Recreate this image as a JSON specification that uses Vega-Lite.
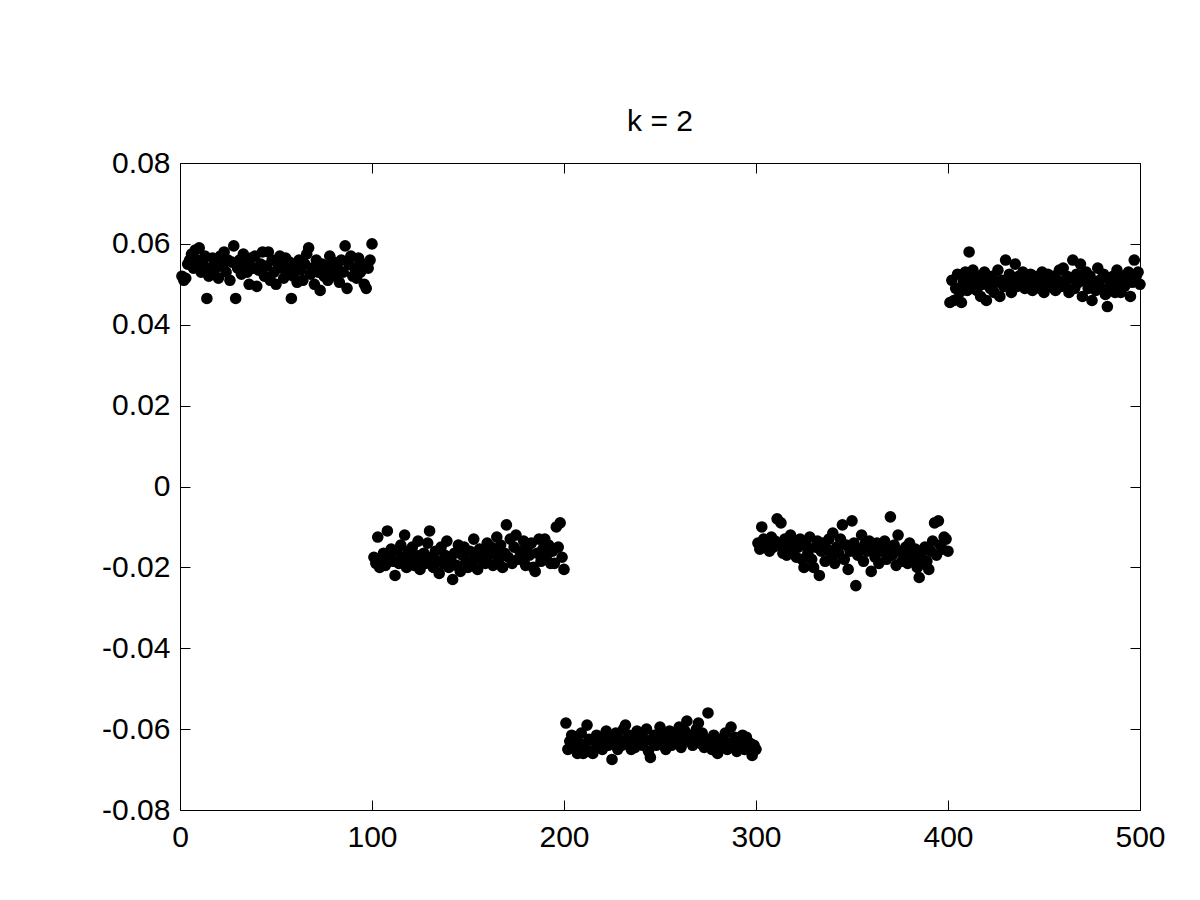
{
"$schema":"https://vega.github.io/schema/vega-lite/v6.json",
"autosize":{"type":"none"},
"padding":{"left":180,"top":163,"right":60,"bottom":90},
"width":960,"height":647,
"background":"white",
"title":{"text":"k = 2","font":"Liberation Sans","fontSize":30,"fontWeight":"normal","color":"black","baseline":"alphabetic","offset":-13},
"data":{"values":[
{"x":1,"y":0.052},{"x":2,"y":0.051},{"x":3,"y":0.0515},{"x":4,"y":0.055},{"x":5,"y":0.056},{"x":6,"y":0.0575},{"x":7,"y":0.054},{"x":8,"y":0.0585},{"x":9,"y":0.056},{"x":10,"y":0.059},
{"x":11,"y":0.053},{"x":12,"y":0.055},{"x":13,"y":0.057},{"x":14,"y":0.0465},{"x":15,"y":0.052},{"x":16,"y":0.054},{"x":17,"y":0.0565},{"x":18,"y":0.0535},{"x":19,"y":0.055},{"x":20,"y":0.0515},
{"x":21,"y":0.057},{"x":22,"y":0.0545},{"x":23,"y":0.058},{"x":24,"y":0.053},{"x":25,"y":0.056},{"x":26,"y":0.051},{"x":27,"y":0.0555},{"x":28,"y":0.0595},{"x":29,"y":0.0465},{"x":30,"y":0.054},
{"x":31,"y":0.056},{"x":32,"y":0.0525},{"x":33,"y":0.0575},{"x":34,"y":0.055},{"x":35,"y":0.053},{"x":36,"y":0.05},{"x":37,"y":0.0565},{"x":38,"y":0.054},{"x":39,"y":0.057},{"x":40,"y":0.0495},
{"x":41,"y":0.0535},{"x":42,"y":0.055},{"x":43,"y":0.058},{"x":44,"y":0.052},{"x":45,"y":0.0545},{"x":46,"y":0.058},{"x":47,"y":0.051},{"x":48,"y":0.056},{"x":49,"y":0.053},{"x":50,"y":0.05},
{"x":51,"y":0.055},{"x":52,"y":0.057},{"x":53,"y":0.054},{"x":54,"y":0.0515},{"x":55,"y":0.0565},{"x":56,"y":0.053},{"x":57,"y":0.0555},{"x":58,"y":0.0465},{"x":59,"y":0.052},{"x":60,"y":0.054},
{"x":61,"y":0.0505},{"x":62,"y":0.056},{"x":63,"y":0.0535},{"x":64,"y":0.051},{"x":65,"y":0.055},{"x":66,"y":0.0575},{"x":67,"y":0.059},{"x":68,"y":0.0525},{"x":69,"y":0.054},{"x":70,"y":0.05},
{"x":71,"y":0.056},{"x":72,"y":0.053},{"x":73,"y":0.0485},{"x":74,"y":0.055},{"x":75,"y":0.052},{"x":76,"y":0.0545},{"x":77,"y":0.051},{"x":78,"y":0.057},{"x":79,"y":0.0535},{"x":80,"y":0.0555},
{"x":81,"y":0.052},{"x":82,"y":0.054},{"x":83,"y":0.0505},{"x":84,"y":0.056},{"x":85,"y":0.053},{"x":86,"y":0.0595},{"x":87,"y":0.049},{"x":88,"y":0.055},{"x":89,"y":0.057},{"x":90,"y":0.052},
{"x":91,"y":0.054},{"x":92,"y":0.0515},{"x":93,"y":0.0565},{"x":94,"y":0.053},{"x":95,"y":0.055},{"x":96,"y":0.05},{"x":97,"y":0.049},{"x":98,"y":0.054},{"x":99,"y":0.056},{"x":100,"y":0.06},
{"x":101,"y":-0.0175},{"x":102,"y":-0.019},{"x":103,"y":-0.0125},{"x":104,"y":-0.02},{"x":105,"y":-0.018},{"x":106,"y":-0.0165},{"x":107,"y":-0.0195},{"x":108,"y":-0.011},{"x":109,"y":-0.017},{"x":110,"y":-0.0155},
{"x":111,"y":-0.0185},{"x":112,"y":-0.022},{"x":113,"y":-0.016},{"x":114,"y":-0.019},{"x":115,"y":-0.0145},{"x":116,"y":-0.0175},{"x":117,"y":-0.012},{"x":118,"y":-0.02},{"x":119,"y":-0.016},{"x":120,"y":-0.018},
{"x":121,"y":-0.015},{"x":122,"y":-0.0195},{"x":123,"y":-0.017},{"x":124,"y":-0.0135},{"x":125,"y":-0.0205},{"x":126,"y":-0.018},{"x":127,"y":-0.0165},{"x":128,"y":-0.019},{"x":129,"y":-0.014},{"x":130,"y":-0.011},
{"x":131,"y":-0.0175},{"x":132,"y":-0.02},{"x":133,"y":-0.016},{"x":134,"y":-0.0185},{"x":135,"y":-0.0215},{"x":136,"y":-0.015},{"x":137,"y":-0.019},{"x":138,"y":-0.017},{"x":139,"y":-0.0135},{"x":140,"y":-0.02},
{"x":141,"y":-0.018},{"x":142,"y":-0.023},{"x":143,"y":-0.0165},{"x":144,"y":-0.0195},{"x":145,"y":-0.0145},{"x":146,"y":-0.021},{"x":147,"y":-0.017},{"x":148,"y":-0.015},{"x":149,"y":-0.0185},{"x":150,"y":-0.02},
{"x":151,"y":-0.016},{"x":152,"y":-0.019},{"x":153,"y":-0.013},{"x":154,"y":-0.0175},{"x":155,"y":-0.0205},{"x":156,"y":-0.0155},{"x":157,"y":-0.018},{"x":158,"y":-0.0165},{"x":159,"y":-0.019},{"x":160,"y":-0.014},
{"x":161,"y":-0.017},{"x":162,"y":-0.015},{"x":163,"y":-0.0195},{"x":164,"y":-0.016},{"x":165,"y":-0.0125},{"x":166,"y":-0.018},{"x":167,"y":-0.0145},{"x":168,"y":-0.02},{"x":169,"y":-0.0165},{"x":170,"y":-0.0095},
{"x":171,"y":-0.0175},{"x":172,"y":-0.013},{"x":173,"y":-0.019},{"x":174,"y":-0.015},{"x":175,"y":-0.012},{"x":176,"y":-0.018},{"x":177,"y":-0.016},{"x":178,"y":-0.018},{"x":179,"y":-0.0135},{"x":180,"y":-0.0195},
{"x":181,"y":-0.015},{"x":182,"y":-0.017},{"x":183,"y":-0.014},{"x":184,"y":-0.02},{"x":185,"y":-0.021},{"x":186,"y":-0.0165},{"x":187,"y":-0.013},{"x":188,"y":-0.0185},{"x":189,"y":-0.0155},{"x":190,"y":-0.013},
{"x":191,"y":-0.017},{"x":192,"y":-0.0145},{"x":193,"y":-0.019},{"x":194,"y":-0.016},{"x":195,"y":-0.019},{"x":196,"y":-0.01},{"x":197,"y":-0.015},{"x":198,"y":-0.009},{"x":199,"y":-0.0175},{"x":200,"y":-0.0205},
{"x":201,"y":-0.0585},{"x":202,"y":-0.065},{"x":203,"y":-0.063},{"x":204,"y":-0.0615},{"x":205,"y":-0.0645},{"x":206,"y":-0.062},{"x":207,"y":-0.066},{"x":208,"y":-0.0635},{"x":209,"y":-0.061},{"x":210,"y":-0.066},
{"x":211,"y":-0.064},{"x":212,"y":-0.059},{"x":213,"y":-0.0625},{"x":214,"y":-0.0655},{"x":215,"y":-0.066},{"x":216,"y":-0.063},{"x":217,"y":-0.0615},{"x":218,"y":-0.0645},{"x":219,"y":-0.062},{"x":220,"y":-0.065},
{"x":221,"y":-0.0635},{"x":222,"y":-0.0605},{"x":223,"y":-0.064},{"x":224,"y":-0.062},{"x":225,"y":-0.0675},{"x":226,"y":-0.063},{"x":227,"y":-0.061},{"x":228,"y":-0.065},{"x":229,"y":-0.0625},{"x":230,"y":-0.064},
{"x":231,"y":-0.06},{"x":232,"y":-0.059},{"x":233,"y":-0.0635},{"x":234,"y":-0.0615},{"x":235,"y":-0.065},{"x":236,"y":-0.062},{"x":237,"y":-0.0645},{"x":238,"y":-0.0605},{"x":239,"y":-0.063},{"x":240,"y":-0.061},
{"x":241,"y":-0.064},{"x":242,"y":-0.0625},{"x":243,"y":-0.06},{"x":244,"y":-0.0655},{"x":245,"y":-0.067},{"x":246,"y":-0.063},{"x":247,"y":-0.0615},{"x":248,"y":-0.064},{"x":249,"y":-0.062},{"x":250,"y":-0.0595},
{"x":251,"y":-0.0635},{"x":252,"y":-0.061},{"x":253,"y":-0.065},{"x":254,"y":-0.0625},{"x":255,"y":-0.0605},{"x":256,"y":-0.064},{"x":257,"y":-0.062},{"x":258,"y":-0.0635},{"x":259,"y":-0.061},{"x":260,"y":-0.0595},
{"x":261,"y":-0.0645},{"x":262,"y":-0.062},{"x":263,"y":-0.0605},{"x":264,"y":-0.058},{"x":265,"y":-0.063},{"x":266,"y":-0.0615},{"x":267,"y":-0.064},{"x":268,"y":-0.062},{"x":269,"y":-0.06},{"x":270,"y":-0.0585},
{"x":271,"y":-0.0635},{"x":272,"y":-0.061},{"x":273,"y":-0.0645},{"x":274,"y":-0.0625},{"x":275,"y":-0.056},{"x":276,"y":-0.063},{"x":277,"y":-0.065},{"x":278,"y":-0.0615},{"x":279,"y":-0.064},{"x":280,"y":-0.066},
{"x":281,"y":-0.0625},{"x":282,"y":-0.0645},{"x":283,"y":-0.063},{"x":284,"y":-0.061},{"x":285,"y":-0.065},{"x":286,"y":-0.0635},{"x":287,"y":-0.0595},{"x":288,"y":-0.064},{"x":289,"y":-0.062},{"x":290,"y":-0.0655},
{"x":291,"y":-0.063},{"x":292,"y":-0.0645},{"x":293,"y":-0.0615},{"x":294,"y":-0.065},{"x":295,"y":-0.062},{"x":296,"y":-0.064},{"x":297,"y":-0.0635},{"x":298,"y":-0.0665},{"x":299,"y":-0.064},{"x":300,"y":-0.065},
{"x":301,"y":-0.014},{"x":302,"y":-0.0155},{"x":303,"y":-0.01},{"x":304,"y":-0.013},{"x":305,"y":-0.015},{"x":306,"y":-0.014},{"x":307,"y":-0.016},{"x":308,"y":-0.0125},{"x":309,"y":-0.015},{"x":310,"y":-0.0135},
{"x":311,"y":-0.008},{"x":312,"y":-0.0145},{"x":313,"y":-0.009},{"x":314,"y":-0.0165},{"x":315,"y":-0.013},{"x":316,"y":-0.017},{"x":317,"y":-0.015},{"x":318,"y":-0.012},{"x":319,"y":-0.016},{"x":320,"y":-0.014},
{"x":321,"y":-0.0175},{"x":322,"y":-0.015},{"x":323,"y":-0.013},{"x":324,"y":-0.018},{"x":325,"y":-0.02},{"x":326,"y":-0.0145},{"x":327,"y":-0.0165},{"x":328,"y":-0.0125},{"x":329,"y":-0.018},{"x":330,"y":-0.02},
{"x":331,"y":-0.015},{"x":332,"y":-0.0135},{"x":333,"y":-0.022},{"x":334,"y":-0.016},{"x":335,"y":-0.014},{"x":336,"y":-0.0185},{"x":337,"y":-0.0155},{"x":338,"y":-0.013},{"x":339,"y":-0.017},{"x":340,"y":-0.0115},
{"x":341,"y":-0.019},{"x":342,"y":-0.015},{"x":343,"y":-0.0165},{"x":344,"y":-0.013},{"x":345,"y":-0.0095},{"x":346,"y":-0.018},{"x":347,"y":-0.0145},{"x":348,"y":-0.0205},{"x":349,"y":-0.016},{"x":350,"y":-0.0085},
{"x":351,"y":-0.014},{"x":352,"y":-0.0245},{"x":353,"y":-0.017},{"x":354,"y":-0.0155},{"x":355,"y":-0.012},{"x":356,"y":-0.0185},{"x":357,"y":-0.014},{"x":358,"y":-0.016},{"x":359,"y":-0.0135},{"x":360,"y":-0.021},
{"x":361,"y":-0.015},{"x":362,"y":-0.0175},{"x":363,"y":-0.014},{"x":364,"y":-0.019},{"x":365,"y":-0.016},{"x":366,"y":-0.015},{"x":367,"y":-0.0135},{"x":368,"y":-0.018},{"x":369,"y":-0.0155},{"x":370,"y":-0.0075},
{"x":371,"y":-0.017},{"x":372,"y":-0.0145},{"x":373,"y":-0.0195},{"x":374,"y":-0.012},{"x":375,"y":-0.016},{"x":376,"y":-0.0185},{"x":377,"y":-0.017},{"x":378,"y":-0.015},{"x":379,"y":-0.019},{"x":380,"y":-0.014},
{"x":381,"y":-0.0165},{"x":382,"y":-0.018},{"x":383,"y":-0.0155},{"x":384,"y":-0.02},{"x":385,"y":-0.0225},{"x":386,"y":-0.017},{"x":387,"y":-0.019},{"x":388,"y":-0.015},{"x":389,"y":-0.0185},{"x":390,"y":-0.0205},
{"x":391,"y":-0.016},{"x":392,"y":-0.0135},{"x":393,"y":-0.009},{"x":394,"y":-0.017},{"x":395,"y":-0.0085},{"x":396,"y":-0.0145},{"x":397,"y":-0.0155},{"x":398,"y":-0.0125},{"x":399,"y":-0.013},{"x":400,"y":-0.016},
{"x":401,"y":0.0455},{"x":402,"y":0.051},{"x":403,"y":0.046},{"x":404,"y":0.049},{"x":405,"y":0.0525},{"x":406,"y":0.048},{"x":407,"y":0.0455},{"x":408,"y":0.0505},{"x":409,"y":0.053},{"x":410,"y":0.0485},
{"x":411,"y":0.058},{"x":412,"y":0.051},{"x":413,"y":0.0535},{"x":414,"y":0.0495},{"x":415,"y":0.0485},{"x":416,"y":0.052},{"x":417,"y":0.047},{"x":418,"y":0.05},{"x":419,"y":0.053},{"x":420,"y":0.046},
{"x":421,"y":0.0515},{"x":422,"y":0.049},{"x":423,"y":0.052},{"x":424,"y":0.048},{"x":425,"y":0.0505},{"x":426,"y":0.0535},{"x":427,"y":0.047},{"x":428,"y":0.051},{"x":429,"y":0.0495},{"x":430,"y":0.056},
{"x":431,"y":0.05},{"x":432,"y":0.0525},{"x":433,"y":0.048},{"x":434,"y":0.051},{"x":435,"y":0.055},{"x":436,"y":0.0495},{"x":437,"y":0.052},{"x":438,"y":0.0505},{"x":439,"y":0.053},{"x":440,"y":0.049},
{"x":441,"y":0.0515},{"x":442,"y":0.05},{"x":443,"y":0.0525},{"x":444,"y":0.0485},{"x":445,"y":0.052},{"x":446,"y":0.05},{"x":447,"y":0.0515},{"x":448,"y":0.049},{"x":449,"y":0.053},{"x":450,"y":0.048},
{"x":451,"y":0.051},{"x":452,"y":0.0525},{"x":453,"y":0.0495},{"x":454,"y":0.0505},{"x":455,"y":0.052},{"x":456,"y":0.0485},{"x":457,"y":0.051},{"x":458,"y":0.0535},{"x":459,"y":0.0495},{"x":460,"y":0.054},
{"x":461,"y":0.05},{"x":462,"y":0.052},{"x":463,"y":0.048},{"x":464,"y":0.0515},{"x":465,"y":0.056},{"x":466,"y":0.049},{"x":467,"y":0.0525},{"x":468,"y":0.0505},{"x":469,"y":0.055},{"x":470,"y":0.047},
{"x":471,"y":0.051},{"x":472,"y":0.053},{"x":473,"y":0.049},{"x":474,"y":0.052},{"x":475,"y":0.046},{"x":476,"y":0.0505},{"x":477,"y":0.0485},{"x":478,"y":0.054},{"x":479,"y":0.051},{"x":480,"y":0.049},
{"x":481,"y":0.0525},{"x":482,"y":0.0475},{"x":483,"y":0.0445},{"x":484,"y":0.051},{"x":485,"y":0.0495},{"x":486,"y":0.052},{"x":487,"y":0.048},{"x":488,"y":0.0535},{"x":489,"y":0.05},{"x":490,"y":0.048},
{"x":491,"y":0.052},{"x":492,"y":0.0495},{"x":493,"y":0.051},{"x":494,"y":0.053},{"x":495,"y":0.047},{"x":496,"y":0.0505},{"x":497,"y":0.056},{"x":498,"y":0.052},{"x":499,"y":0.053},{"x":500,"y":0.05}
]},
"layer":[
{"mark":{"type":"point","filled":true,"shape":"circle","size":135,"color":"black","opacity":1,"strokeWidth":0},
 "encoding":{
  "x":{"field":"x","type":"quantitative","scale":{"domain":[0,500],"nice":false,"zero":false},
       "axis":{"orient":"bottom","values":[0,100,200,300,400,500],"title":null,"labelPadding":22}},
  "y":{"field":"y","type":"quantitative","scale":{"domain":[-0.08,0.08],"nice":false,"zero":false},
       "axis":{"orient":"left","values":[-0.08,-0.06,-0.04,-0.02,0,0.02,0.04,0.06,0.08],"title":null,"labelPadding":20,
               "labelExpr":"datum.value == 0 ? '0' : (datum.value < 0 ? '-' : '') + format(abs(datum.value), '.2f')"}}
 }},
{"mark":{"type":"point","opacity":0},
 "encoding":{
  "x":{"field":"x","type":"quantitative","scale":{"domain":[0,500],"nice":false,"zero":false},
       "axis":{"orient":"top","values":[0,100,200,300,400,500],"title":null,"labels":false}},
  "y":{"field":"y","type":"quantitative","scale":{"domain":[-0.08,0.08],"nice":false,"zero":false},
       "axis":{"orient":"right","values":[-0.08,-0.06,-0.04,-0.02,0,0.02,0.04,0.06,0.08],"title":null,"labels":false}}
 }}
],
"resolve":{"scale":{"x":"independent","y":"independent"}},
"config":{
 "view":{"stroke":"black","strokeWidth":1},
 "axis":{"grid":false,"domain":false,"ticks":true,"tickColor":"black","tickSize":-10,"tickWidth":1,
         "labelFont":"Liberation Sans","labelFontSize":30,"labelColor":"black","labelFlush":false,"labelOverlap":false}
}
}
